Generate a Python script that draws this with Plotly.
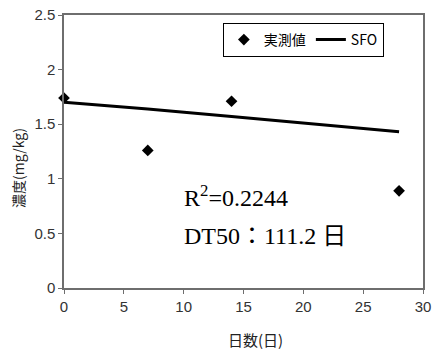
import plotly.graph_objects as go

# Data
obs_days = [0, 7, 14, 28]
obs_values = [1.74, 1.26, 1.71, 0.89]
sfo_days = [0, 7, 14, 21, 28]
sfo_values = [1.70, 1.64, 1.57, 1.50, 1.43]
x_ticks = [0, 5, 10, 15, 20, 25, 30]
y_ticks = [0, 0.5, 1, 1.5, 2, 2.5]
y_tick_labels = ["0", "0.5", "1", "1.5", "2", "2.5"]

W, H = 433, 353
ML, MR, MT, MB = 64, 2, 15, 65
PW, PH = W - ML - MR, H - MT - MB

def px_x(p):
    return (p - ML) / PW

def px_y(p):
    return (H - MB - p) / PH

sans = "Liberation Sans, Arial, Noto Sans CJK JP, sans-serif"
cjk = "Noto Sans CJK JP, Liberation Sans, sans-serif"
serif = "Liberation Serif, Times New Roman, Noto Sans CJK JP, serif"

fig = go.Figure()
fig.add_trace(go.Scatter(
    x=obs_days, y=obs_values, mode="markers", name="実測値",
    marker=dict(symbol="diamond", size=9, color="black"),
    cliponaxis=False,
))
fig.add_trace(go.Scatter(
    x=sfo_days, y=sfo_values, mode="lines", name="SFO",
    line=dict(color="black", width=3),
    cliponaxis=False,
))

axis_common = dict(
    showline=True, mirror=True, linecolor="#6e6e6e", linewidth=1.5,
    showgrid=False, zeroline=False,
    ticks="outside", ticklen=4, tickcolor="#6e6e6e", tickwidth=1,
    ticklabeloverflow="allow",
    tickfont=dict(family=sans, size=15, color="#333333"),
)

fig.update_xaxes(range=[0, 30], tickvals=x_ticks, **axis_common)
fig.update_yaxes(range=[0, 2.5], tickvals=y_ticks, ticktext=y_tick_labels, **axis_common)

fig.update_layout(
    width=W, height=H,
    margin=dict(l=ML, r=MR, t=MT, b=MB, pad=0),
    paper_bgcolor="white", plot_bgcolor="white",
    showlegend=True,
    legend=dict(
        orientation="h",
        x=px_x(391), xanchor="right",
        y=px_y(23), yanchor="top",
        bordercolor="black", borderwidth=1, bgcolor="white",
        font=dict(family=cjk, size=14, color="black"),
        itemwidth=30, tracegroupgap=0,
    ),
    annotations=[
        dict(text="R<sup>2</sup>=0.2244", x=9.9, y=0.845, xref="x", yref="y",
             xanchor="left", yanchor="middle", showarrow=False,
             font=dict(family=serif, size=24, color="black")),
        dict(text="DT50：111.2 日", x=9.9, y=0.48, xref="x", yref="y",
             xanchor="left", yanchor="middle", showarrow=False,
             font=dict(family=serif, size=24, color="black")),
        dict(text="濃度(mg/kg)", x=px_x(17), y=px_y(168), xref="paper", yref="paper",
             xanchor="center", yanchor="middle", textangle=-90, showarrow=False,
             font=dict(family=cjk, size=14, color="#222222")),
        dict(text="日数(日)", x=px_x(260), y=px_y(339), xref="paper", yref="paper",
             xanchor="center", yanchor="middle", showarrow=False,
             font=dict(family=cjk, size=15, color="#222222")),
    ],
)

fig.write_html("out.html", config={"displayModeBar": False},
               post_script="document.body.style.margin='0';")
